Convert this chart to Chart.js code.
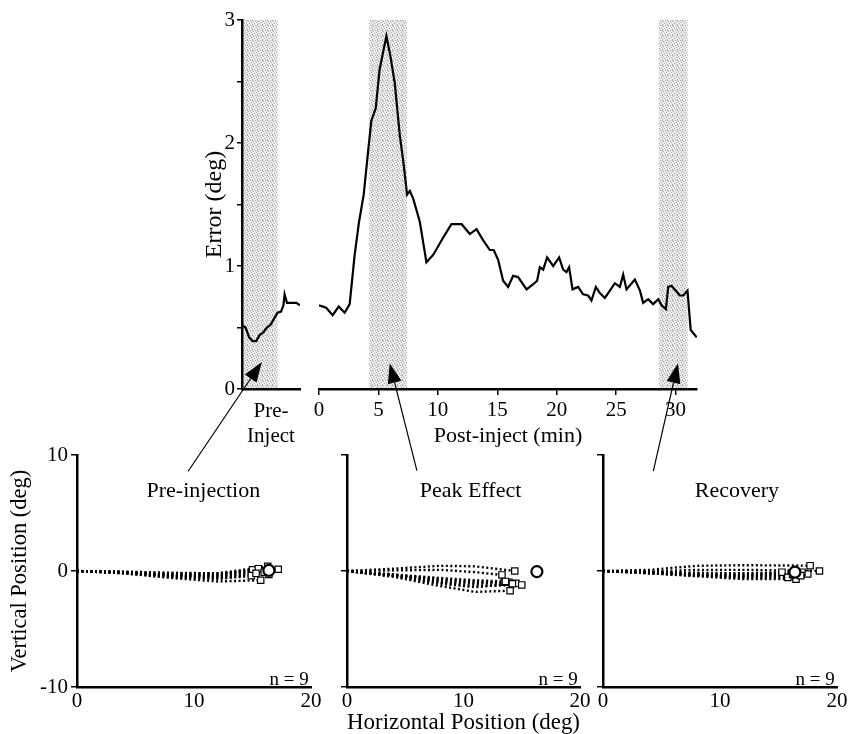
<!DOCTYPE html>
<html>
<head>
<meta charset="utf-8">
<script src="https://cdn.jsdelivr.net/npm/chart.js@4.4.1/dist/chart.umd.min.js"></script>
<style>
    body { margin: 0; background: #fff; }
    #wrap { position: relative; width: 851px; height: 734px; }
    #wrap canvas { position: absolute; left: 0; top: 0; }
</style>
</head>
<body>
<div id="wrap">
    <canvas id="pre" width="851" height="734"></canvas>
    <canvas id="post" width="851" height="734"></canvas>
    <canvas id="panel1" width="851" height="734"></canvas>
    <canvas id="panel2" width="851" height="734"></canvas>
    <canvas id="panel3" width="851" height="734"></canvas>
    <canvas id="arrows" width="851" height="734"></canvas>
</div>
<script>
// error trace, pre-injection (min, deg)
const preTime  = [0, 0.3, 0.6, 0.9, 1.2, 1.5, 1.8, 2.1, 2.4, 2.7, 3.0, 3.3, 3.5, 3.6, 3.8, 4.2, 4.6, 4.9];
const preError = [0.52, 0.50, 0.42, 0.39, 0.39, 0.44, 0.46, 0.50, 0.52, 0.57, 0.62, 0.63, 0.68, 0.77, 0.70, 0.70, 0.70, 0.68];

// error trace, post-injection (min, deg)
const postTime = [0, 0.6, 1.15, 1.66, 2.16, 2.58, 3.0, 3.37, 3.76, 4.13, 4.4, 4.77, 5.1, 5.67, 6.0, 6.37, 6.8, 7.13, 7.41, 7.64,
    7.92, 8.48, 9.04, 9.6, 10.44, 11.14, 12.0, 12.69, 13.25, 13.8, 14.37, 14.7, 15.07, 15.49, 15.91, 16.33, 16.75, 17.46, 18.0, 18.35,
    18.58, 18.86, 19.19, 19.7, 20.2, 20.54, 20.82, 21.04, 21.33, 21.8, 22.22, 22.64, 22.92, 23.29, 23.63, 24.05, 24.47, 24.89, 25.31, 25.59,
    25.87, 26.57, 27.0, 27.27, 27.69, 28.11, 28.54, 28.82, 29.18, 29.38, 29.66, 30.36, 30.64, 31.0, 31.27, 31.78];
const postError = [0.68, 0.66, 0.60, 0.67, 0.62, 0.69, 1.09, 1.36, 1.58, 1.93, 2.18, 2.28, 2.60, 2.87, 2.71, 2.49, 2.06, 1.82, 1.58, 1.61,
    1.55, 1.36, 1.03, 1.09, 1.23, 1.34, 1.34, 1.26, 1.30, 1.21, 1.13, 1.13, 1.05, 0.88, 0.83, 0.92, 0.91, 0.81, 0.85, 0.88,
    0.99, 0.97, 1.07, 1.00, 1.07, 0.97, 0.95, 0.99, 0.81, 0.83, 0.77, 0.76, 0.72, 0.83, 0.78, 0.74, 0.80, 0.86, 0.83, 0.93,
    0.81, 0.89, 0.80, 0.70, 0.73, 0.69, 0.73, 0.68, 0.65, 0.83, 0.84, 0.76, 0.76, 0.80, 0.48, 0.42];

// sampled epochs (min)
const preShade = [[0.1, 3.0]];
const postShade = [[4.2, 7.4], [28.6, 31.0]];

const postTicks = [0, 5, 10, 15, 20, 25, 30];
const errorTicks = [0, 1, 2, 3];
const positionTicks = [-10, 0, 10];
const horizTicks = [0, 10, 20];

// saccade trajectories, [horizontal, vertical] deg
const preTraj = [
    [[0, 0], [4, -0.10], [8, -0.30], [12, -0.30], [15.0, 0.10]],
    [[0, 0], [4, -0.15], [8, -0.40], [12, -0.40], [15.5, 0.20]],
    [[0, 0], [4, -0.10], [8, -0.20], [12, -0.20], [16.3, 0.40]],
    [[0, 0], [4, -0.05], [8, -0.15], [12, -0.20], [17.2, 0.15]],
    [[0, 0], [4, -0.20], [8, -0.50], [12, -0.70], [14.9, -0.40]],
    [[0, 0], [4, -0.20], [8, -0.60], [12, -0.90], [15.7, -0.80]],
    [[0, 0], [4, -0.15], [8, -0.45], [12, -0.60], [16.4, -0.30]],
    [[0, 0], [4, -0.10], [8, -0.35], [12, -0.50], [15.3, -0.20]],
    [[0, 0], [4, -0.10], [8, -0.30], [12, -0.40], [16.0, -0.10]]
];
const peakTraj = [
    [[0, 0], [4, 0.20], [8, 0.45], [11, 0.40], [14.4, 0.00]],
    [[0, 0], [4, 0.05], [8, 0.10], [11, -0.10], [13.3, -0.34]],
    [[0, 0], [4, -0.30], [8, -0.70], [11, -0.90], [13.5, -0.97]],
    [[0, 0], [4, -0.35], [8, -0.80], [11, -1.00], [13.9, -0.97]],
    [[0, 0], [4, -0.40], [8, -0.90], [11, -1.10], [14.5, -1.06]],
    [[0, 0], [4, -0.35], [8, -1.00], [11, -1.30], [15.0, -1.20]],
    [[0, 0], [4, -0.50], [8, -1.30], [11, -1.80], [14.0, -1.70]],
    [[0, 0], [4, -0.30], [8, -0.60], [11, -0.80], [13.6, -0.90]],
    [[0, 0], [4, -0.45], [8, -1.10], [11, -1.40], [14.2, -1.10]]
];
const recoveryTraj = [
    [[0, 0], [4, 0.10], [8, 0.45], [12, 0.50], [17.7, 0.46]],
    [[0, 0], [4, -0.05], [8, 0.10], [12, 0.10], [18.5, 0.00]],
    [[0, 0], [4, -0.10], [8, -0.20], [12, -0.30], [17.5, -0.26]],
    [[0, 0], [4, -0.10], [8, -0.15], [12, -0.20], [17.0, -0.10]],
    [[0, 0], [4, -0.15], [8, -0.30], [12, -0.40], [15.3, -0.10]],
    [[0, 0], [4, -0.20], [8, -0.40], [12, -0.60], [15.8, -0.55]],
    [[0, 0], [4, -0.20], [8, -0.45], [12, -0.70], [16.5, -0.70]],
    [[0, 0], [4, -0.15], [8, -0.35], [12, -0.50], [16.9, -0.40]],
    [[0, 0], [4, -0.10], [8, -0.30], [12, -0.45], [16.2, -0.30]]
];
const preTarget = [16.4, 0.05];
const peakTarget = [16.3, -0.05];
const recoveryTarget = [16.4, -0.1];

// arrows: tail in a lower panel, tip in the upper trace (data units)
const arrowTails = [[9.5, 8.6], [6.0, 8.65], [4.3, 8.6]];
const arrowTips = [[1.68, 0.22], [5.95, 0.21], [30.2, 0.21]];

const SERIF = "'Liberation Serif', 'Times New Roman', serif";
Chart.defaults.font.family = SERIF;
Chart.defaults.font.size = 21;
Chart.defaults.color = '#000';

// light halftone, like the printed grey bands
function makeStipple() {
    const c = document.createElement('canvas');
    c.width = 5; c.height = 5;
    const g = c.getContext('2d');
    g.fillStyle = '#ececec';
    g.fillRect(0, 0, 5, 5);
    g.fillStyle = '#a6a6a6';
    [[0, 0], [3, 1], [1, 2], [4, 3], [2, 4], [2, 0]].forEach(p => g.fillRect(p[0], p[1], 1, 1));
    return g.createPattern(c, 'repeat');
}
const stipple = makeStipple();

const shadePlugin = {
    id: 'shade',
    beforeDraw(chart, args, opts) {
        const {ctx, chartArea, scales} = chart;
        ctx.save();
        ctx.fillStyle = stipple;
        (opts.ranges || []).forEach(([a, b]) => {
            const x0 = scales.x.getPixelForValue(a);
            const x1 = scales.x.getPixelForValue(b);
            ctx.fillRect(x0, chartArea.top, x1 - x0, chartArea.bottom - chartArea.top);
        });
        ctx.restore();
    }
};

const panelText = {
    id: 'panelText',
    afterDraw(chart, args, opts) {
        const {ctx, scales} = chart;
        ctx.save();
        ctx.fillStyle = '#000';
        ctx.textBaseline = 'middle';
        ctx.textAlign = 'center';
        ctx.font = '22px ' + SERIF;
        ctx.fillText(opts.title, scales.x.getPixelForValue(opts.titleAt[0]), scales.y.getPixelForValue(opts.titleAt[1]));
        ctx.textAlign = 'right';
        ctx.font = '19px ' + SERIF;
        ctx.fillText(opts.note, scales.x.getPixelForValue(opts.noteAt[0]), scales.y.getPixelForValue(opts.noteAt[1]));
        ctx.restore();
    }
};

const axisBorder = {color: '#000', width: 2.5};
const tickGrid = {drawOnChartArea: false, color: '#000', lineWidth: 1.5, tickLength: 5};

function toPoints(xs, ys) {
    return xs.map((x, i) => ({x: x, y: ys[i]}));
}

function fixedTicks(list) {
    return function(scale) {
        scale.ticks = list.map(v => ({value: v}));
    };
}

const preChart = new Chart(document.getElementById('pre'), {
    type: 'line',
    data: {
        datasets: [{
            data: toPoints(preTime, preError),
            borderColor: '#000', borderWidth: 2.2, pointRadius: 0, tension: 0
        }]
    },
    options: {
        responsive: false, animation: false, events: [],
        layout: {padding: {left: 196, right: 551, top: 20, bottom: 285}},
        plugins: {legend: {display: false}, tooltip: {enabled: false}, shade: {ranges: preShade}},
        scales: {
            x: {
                type: 'linear', min: 0, max: 4.9,
                afterFit: s => { s.height = 60; },
                ticks: {display: false},
                grid: {display: false, drawTicks: false},
                border: axisBorder,
                title: {display: true, text: ['Pre-', 'Inject'], padding: {top: 0, bottom: 0}}
            },
            y: {
                min: 0, max: 3,
                afterFit: s => { s.width = 46; },
                ticks: {stepSize: 0.5, padding: 2, callback: v => errorTicks.includes(v) ? v : ''},
                grid: tickGrid,
                border: axisBorder,
                title: {display: true, text: 'Error (deg)', font: {size: 24}, padding: {top: 4, bottom: 0}}
            }
        }
    },
    plugins: [shadePlugin]
});

const postChart = new Chart(document.getElementById('post'), {
    type: 'line',
    data: {
        datasets: [{
            data: toPoints(postTime, postError),
            borderColor: '#000', borderWidth: 2.2, pointRadius: 0, tension: 0
        }]
    },
    options: {
        responsive: false, animation: false, events: [],
        layout: {padding: {left: 319, right: 154, top: 20, bottom: 285}},
        plugins: {legend: {display: false}, tooltip: {enabled: false}, shade: {ranges: postShade}},
        scales: {
            x: {
                type: 'linear', min: 0, max: 31.8,
                afterFit: s => { s.height = 60; },
                afterBuildTicks: fixedTicks(postTicks),
                ticks: {padding: 3, autoSkip: false, maxRotation: 0},
                grid: {drawOnChartArea: false, color: '#000', lineWidth: 1.5, tickLength: 6},
                border: axisBorder,
                title: {display: true, text: 'Post-inject (min)', font: {size: 22}, padding: {top: 0, bottom: 0}}
            },
            y: {display: false, min: 0, max: 3}
        }
    },
    plugins: [shadePlugin]
});

function makePanel(id, trajectories, target, cfg) {
    const datasets = trajectories.map(tr => ({
        type: 'line',
        data: tr.map(p => ({x: p[0], y: p[1]})),
        borderColor: '#000', borderWidth: 2.4, borderDash: [2, 2.5],
        pointRadius: 0, fill: false, tension: 0, order: 2
    }));
    datasets.push({
        data: trajectories.map(tr => ({x: tr[tr.length - 1][0], y: tr[tr.length - 1][1]})),
        pointStyle: 'rect', pointRadius: 4.5, backgroundColor: '#fff',
        borderColor: '#000', borderWidth: 1.2, order: 1
    });
    datasets.push({
        data: [{x: target[0], y: target[1]}],
        pointStyle: 'circle', pointRadius: 5.5, backgroundColor: '#fff',
        borderColor: '#000', borderWidth: 2.2, order: 0
    });

    return new Chart(document.getElementById(id), {
        type: 'scatter',
        data: {datasets: datasets},
        options: {
            responsive: false, animation: false, events: [],
            layout: {padding: {left: cfg.left - cfg.yWidth, right: 851 - cfg.right, top: 455, bottom: 0}},
            plugins: {
                legend: {display: false}, tooltip: {enabled: false},
                panelText: {title: cfg.title, titleAt: cfg.titleAt, note: 'n = ' + trajectories.length, noteAt: [19.8, -9.4]}
            },
            scales: {
                x: {
                    type: 'linear', min: 0, max: 20,
                    afterFit: s => { s.height = 47; },
                    afterBuildTicks: fixedTicks(horizTicks),
                    ticks: {padding: 2, maxRotation: 0, autoSkip: false},
                    grid: {display: false, drawTicks: false},
                    border: axisBorder,
                    title: {display: cfg.xTitle, text: 'Horizontal Position (deg)', font: {size: 23, lineHeight: 1}, padding: {top: 0, bottom: 0}}
                },
                y: {
                    min: -10, max: 10,
                    afterFit: s => { s.width = cfg.yWidth; },
                    afterBuildTicks: fixedTicks(positionTicks),
                    ticks: {display: cfg.yLabels, padding: 3},
                    grid: {drawOnChartArea: false, color: '#000', lineWidth: 1.5, tickLength: 6},
                    border: axisBorder,
                    title: {display: cfg.yTitle, text: 'Vertical Position (deg)', font: {size: 22.5}, padding: {top: 4, bottom: 0}}
                }
            }
        },
        plugins: [panelText]
    });
}

const panel1 = makePanel('panel1', preTraj, preTarget,
    {left: 77, right: 311, yWidth: 74, yLabels: true, yTitle: true, xTitle: false, title: 'Pre-injection', titleAt: [10.8, 6.9]});
const panel2 = makePanel('panel2', peakTraj, peakTarget,
    {left: 347, right: 580, yWidth: 8, yLabels: false, yTitle: false, xTitle: true, title: 'Peak Effect', titleAt: [10.6, 6.9]});
const panel3 = makePanel('panel3', recoveryTraj, recoveryTarget,
    {left: 603, right: 837, yWidth: 8, yLabels: false, yTitle: false, xTitle: false, title: 'Recovery', titleAt: [11.45, 6.9]});

function drawArrow(ctx, x0, y0, x1, y1) {
    const ang = Math.atan2(y1 - y0, x1 - x0);
    const len = 20, half = 7;
    const bx = x1 - len * Math.cos(ang);
    const by = y1 - len * Math.sin(ang);
    ctx.beginPath();
    ctx.moveTo(x0, y0);
    ctx.lineTo(bx, by);
    ctx.stroke();
    ctx.beginPath();
    ctx.moveTo(x1, y1);
    ctx.lineTo(bx + half * Math.sin(ang), by - half * Math.cos(ang));
    ctx.lineTo(bx - half * Math.sin(ang), by + half * Math.cos(ang));
    ctx.closePath();
    ctx.fill();
}

const arrowCtx = document.getElementById('arrows').getContext('2d');
arrowCtx.strokeStyle = '#000';
arrowCtx.fillStyle = '#000';
arrowCtx.lineWidth = 1.2;
const tailCharts = [panel1, panel2, panel3];
const tipCharts = [preChart, postChart, postChart];
arrowTails.forEach((tail, i) => {
    const from = tailCharts[i].scales, to = tipCharts[i].scales;
    drawArrow(arrowCtx,
        from.x.getPixelForValue(tail[0]), from.y.getPixelForValue(tail[1]),
        to.x.getPixelForValue(arrowTips[i][0]), to.y.getPixelForValue(arrowTips[i][1]));
});
</script>
</body>
</html>
